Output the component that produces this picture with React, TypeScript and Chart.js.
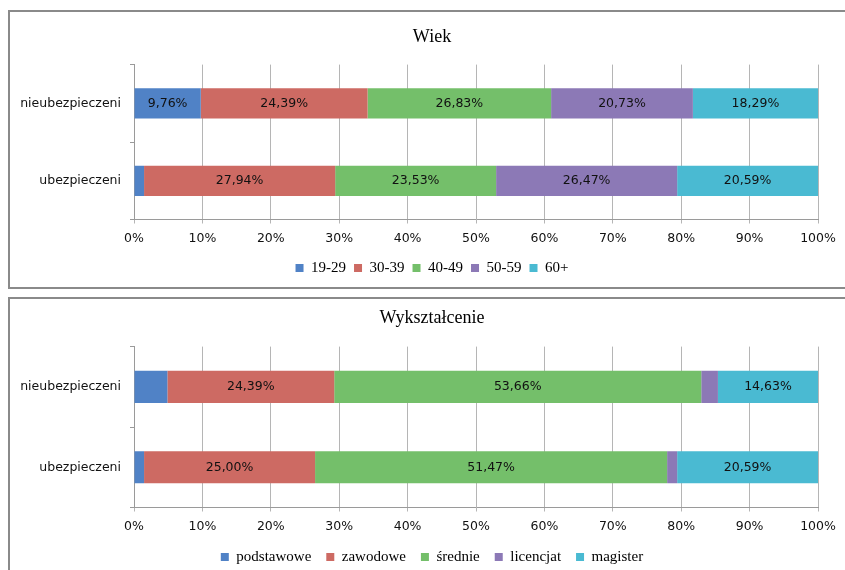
import React, { useEffect, useRef } from "react";
import { Chart, registerables } from "chart.js";

Chart.register(...registerables);

const categories = ["nieubezpieczeni", "ubezpieczeni"];
const xTicks = [0, 10, 20, 30, 40, 50, 60, 70, 80, 90, 100];

const ageSeries = ["19-29", "30-39", "40-49", "50-59", "60+"];
const age1929 = [9.76, 1.47];
const age3039 = [24.39, 27.94];
const age4049 = [26.83, 23.53];
const age5059 = [20.73, 26.47];
const age60 = [18.29, 20.59];

const eduSeries = ["podstawowe", "zawodowe", "średnie", "licencjat", "magister"];
const eduPodst = [4.88, 1.47];
const eduZawod = [24.39, 25.0];
const eduSred = [53.66, 51.47];
const eduLic = [2.44, 1.47];
const eduMag = [14.63, 20.59];

const colors = ["#5082C6", "#CD6A63", "#74BF6A", "#8C79B6", "#4ABAD2"];

const SANS = "'DejaVu Sans', sans-serif";
const SERIF = "'Liberation Serif', 'Times New Roman', serif";

const labelPlugin = {
  id: "segLabels",
  afterDatasetsDraw(chart: any) {
    const ctx = chart.ctx;
    ctx.save();
    ctx.font = `12.5px ${SANS}`;
    ctx.fillStyle = "#111";
    ctx.textAlign = "center";
    ctx.textBaseline = "middle";
    chart.data.datasets.forEach((ds: any, di: number) => {
      const meta = chart.getDatasetMeta(di);
      meta.data.forEach((el: any, i: number) => {
        const v = ds.data[i];
        if (v < 5) return;
        const x = (el.x + el.base) / 2;
        ctx.fillText(v.toFixed(2).replace(".", ",") + "%", x, el.y);
      });
    });
    ctx.restore();
  },
};

type Props = {
  title: string;
  series: string[];
  values: number[][];
  height: number;
  titlePad: { top: number; bottom: number };
  bottomPad: number;
  barPct: number;
  xHeight: number;
  legendPad: number;
};

function StackChart({ title, series, values, height, titlePad, bottomPad, barPct, xHeight, legendPad }: Props) {
  const ref = useRef<HTMLCanvasElement>(null);
  useEffect(() => {
    if (!ref.current) return;
    const chart = new Chart(ref.current, {
      type: "bar",
      data: {
        labels: categories,
        datasets: series.map((s, i) => ({
          label: s,
          data: values[i],
          backgroundColor: colors[i],
          borderWidth: 0,
          barPercentage: barPct,
          categoryPercentage: 1,
        })),
      },
      options: {
        indexAxis: "y",
        animation: false,
        responsive: false,
        devicePixelRatio: 1,
        layout: { padding: { left: 0, right: 0, top: 0, bottom: bottomPad } },
        plugins: {
          title: {
            display: true,
            text: title,
            color: "#000",
            font: { family: SERIF, size: 18, weight: "normal" },
            padding: titlePad,
          },
          legend: {
            position: "bottom",
            labels: {
              boxWidth: 8,
              boxHeight: 8,
              padding: legendPad,
              color: "#000",
              font: { family: SERIF, size: 15 },
            },
          },
          tooltip: { enabled: false },
        },
        scales: {
          x: {
            stacked: true,
            min: 0,
            max: 100,
            afterBuildTicks: (scale: any) => {
              scale.ticks = xTicks.map((v) => ({ value: v }));
            },
            afterFit: (scale: any) => {
              scale.height = xHeight;
            },
            ticks: {
              callback: (v: any) => v + "%",
              color: "#111",
              padding: 8,
              font: { family: SANS, size: 12.5 },
              maxRotation: 0,
            },
            grid: { color: "#b5b5b5", tickLength: 4, lineWidth: 1 },
            border: { display: true, color: "#9a9a9a" },
          },
          y: {
            stacked: true,
            afterFit: (scale: any) => {
              scale.width = 124;
            },
            ticks: {
              color: "#111",
              padding: 9,
              font: { family: SANS, size: 12.5 },
            },
            grid: {
              offset: true,
              drawOnChartArea: false,
              tickLength: 4,
              color: "#9a9a9a",
            },
            border: { display: true, color: "#9a9a9a" },
          },
          yRight: {
            type: "category",
            labels: categories,
            position: "right",
            afterFit: (scale: any) => {
              scale.width = 36;
            },
            ticks: { display: false },
            grid: { display: false, drawTicks: false },
            border: { display: false },
          },
        },
      },
      plugins: [labelPlugin],
    } as any);
    return () => chart.destroy();
  }, []);
  return <canvas ref={ref} width={844} height={height} style={{ display: "block" }} />;
}

export default function App() {
  const boxStyle: React.CSSProperties = {
    position: "absolute",
    left: 8,
    width: 880,
    border: "2px solid #8a8a8a",
    background: "#fff",
  };
  return (
    <div
      style={{
        position: "fixed",
        left: 0,
        top: 0,
        width: 845,
        height: 570,
        overflow: "hidden",
        background: "#fff",
      }}
    >
      <div style={{ ...boxStyle, top: 10, height: 275 }}>
        <StackChart
          title="Wiek"
          series={ageSeries}
          values={[age1929, age3039, age4049, age5059, age60]}
          height={275}
          titlePad={{ top: 14, bottom: 17 }}
          bottomPad={1.5}
          barPct={0.39}
          xHeight={33}
          legendPad={8}
        />
      </div>
      <div style={{ ...boxStyle, top: 297, height: 290 }}>
        <StackChart
          title="Wykształcenie"
          series={eduSeries}
          values={[eduPodst, eduZawod, eduSred, eduLic, eduMag]}
          height={280}
          titlePad={{ top: 8, bottom: 18 }}
          bottomPad={4.5}
          barPct={0.4}
          xHeight={27}
          legendPad={15}
        />
      </div>
    </div>
  );
}
